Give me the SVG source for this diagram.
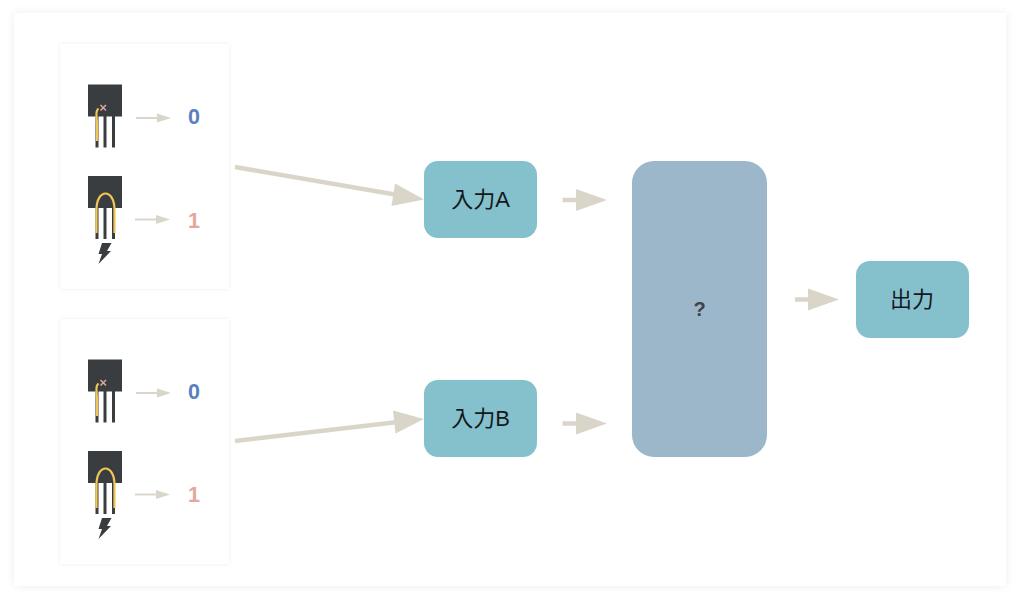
<svg xmlns="http://www.w3.org/2000/svg" xmlns:xlink="http://www.w3.org/1999/xlink" width="1024" height="598" viewBox="0 0 1024 598">
<style>
text{font-family:"Liberation Sans","Noto Sans CJK JP",sans-serif;text-anchor:middle}
.node{fill:#85c1cd}
.lbl{font-size:22px;fill:#14181c}
.bit{font-size:21.500px;font-weight:bold}
.conn{stroke:#d9d6c9;fill:none}
.head{fill:#d9d6c9}
.chip{fill:#3a3d40}
.pin{stroke:#3a3d40;stroke-width:3;fill:none}
.wire{stroke:#f0c757;stroke-width:2.200;fill:none}
.x{stroke:#e0a69b;stroke-width:1.500;fill:none}
</style>
<defs>
<filter id="sh" x="-5%" y="-5%" width="110%" height="110%"><feGaussianBlur stdDeviation="5"/></filter>
<filter id="sh2" x="-10%" y="-10%" width="120%" height="120%"><feGaussianBlur stdDeviation="2"/></filter>
<g id="off">
<rect class="chip" x="88" y="84.500" width="34" height="32"/>
<path class="pin" d="M97 116V147.500M105 116V147.500M113.500 116V147.500"/>
<path d="M98.500 108.500Q96 110.500 96.500 116Q97.300 125 97 141" class="wire"/>
<path class="x" d="M100.500 105l5.500 5.500M106 105l-5.500 5.500"/>
</g>
<g id="on">
<rect class="chip" x="88" y="176" width="34" height="32"/>
<path class="pin" d="M97 208V239M105 208V239M113.500 208V239"/>
<path d="M96.500 233V210C96.500 188 114.500 188 114.500 210V233" class="wire"/>
<path fill="#3a3d40" d="M102 243H111.500L107 251H111L98.500 264L102 254H98.500Z"/>
</g>
</defs>
<rect width="1024" height="598" fill="#fff"/>
<rect x="14" y="13" width="992" height="573" fill="#000" opacity="0.07" filter="url(#sh)"/>
<rect x="14" y="13" width="992" height="573" fill="#fff"/>
<g id="panel-a">
<rect x="60" y="44" width="169" height="245" fill="#000" opacity="0.07" filter="url(#sh2)"/>
<rect x="60" y="44" width="169" height="245" fill="#fff"/>
<use xlink:href="#off"/>
<use xlink:href="#on"/>
<text class="bit" x="194" y="124" fill="#5b80bf">0</text>
<text class="bit" x="194" y="227.500" fill="#e3a79c">1</text>
</g>
<g id="panel-b">
<rect x="60" y="319" width="169" height="245" fill="#000" opacity="0.07" filter="url(#sh2)"/>
<rect x="60" y="319" width="169" height="245" fill="#fff"/>
<use xlink:href="#off" y="275"/>
<use xlink:href="#on" y="275"/>
<text class="bit" x="194" y="398.500" fill="#5b80bf">0</text>
<text class="bit" x="194" y="502" fill="#e3a79c">1</text>
</g>
<g id="connectors">
<path class="conn" stroke-width="2" d="M136 118H160"/><path class="head" d="M157 113.500L171 118L157 122.500Z"/>
<path class="conn" stroke-width="2" d="M135 219.500H159"/><path class="head" d="M156 215L170 219.500L156 224Z"/>
<path class="conn" stroke-width="2" d="M136 393H160"/><path class="head" d="M157 388.500L171 393L157 397.500Z"/>
<path class="conn" stroke-width="2" d="M135 494.500H159"/><path class="head" d="M156 490L170 494.500L156 499Z"/>
<path class="conn" stroke-width="4.500" d="M235 167L398 195"/><path class="head" d="M395 183.500L424 199.500L391.500 206Z"/>
<path class="conn" stroke-width="4.500" d="M235 441L398 422"/><path class="head" d="M393 410.500L424 419L395.500 433.500Z"/>
<path class="conn" stroke-width="4.500" d="M562.500 200H578"/><path class="head" d="M576 189L607 200L576 211Z"/>
<path class="conn" stroke-width="4.500" d="M562.500 423.500H578"/><path class="head" d="M576 412.500L607 423.500L576 434.500Z"/>
<path class="conn" stroke-width="4.500" d="M795 299.500H810"/><path class="head" d="M808 288.500L839 299.500L808 310.500Z"/>
</g>
<g id="input-a"><rect class="node" x="424" y="161" width="113" height="77" rx="14"/><text class="lbl" x="480.500" y="207">入力A</text></g>
<g id="input-b"><rect class="node" x="424" y="380" width="113" height="77" rx="14"/><text class="lbl" x="480.500" y="426">入力B</text></g>
<g id="gate"><rect x="632" y="161" width="135" height="296" rx="22" fill="#9bb7c9"/><text x="699.500" y="316" font-size="20" font-weight="bold" fill="#3f4347">?</text></g>
<g id="output"><rect class="node" x="856" y="261" width="113" height="77" rx="14"/><text class="lbl" x="912" y="307">出力</text></g>
</svg>
